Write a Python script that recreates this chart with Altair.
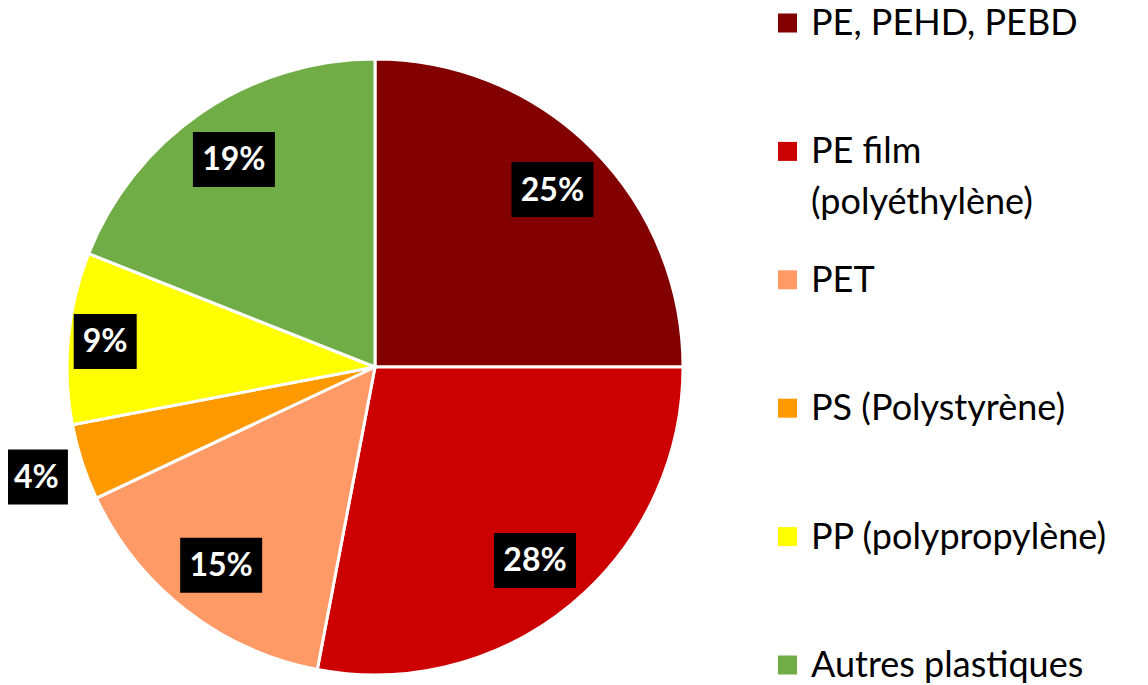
import altair as alt
import pandas as pd

cats = ["PE, PEHD, PEBD", "PE film (polyéthylène)", "PET", "PS (Polystyrène)",
        "PP (polypropylène)", "Autres plastiques"]
legend_labels = ["PE, PEHD, PEBD", "PE film\n(polyéthylène)", "PET", "PS (Polystyrène)",
                 "PP (polypropylène)", "Autres plastiques"]
values = [25, 28, 15, 4, 9, 19]
colors = ["#820000", "#CC0000", "#FF9966", "#FF9900", "#FFFF00", "#70AD47"]

df = pd.DataFrame({
    "cat": cats,
    "legend": legend_labels,
    "value": values,
    "idx": list(range(len(cats))),
})
df["label"] = df["value"].astype(str) + "%"

CX, CY, R = 367, 359, 308
base = alt.Chart(df)

pie = base.mark_arc(outerRadius=R, stroke="white", strokeWidth=3).encode(
    theta=alt.Theta("value:Q", stack=True),
    order=alt.Order("idx:Q", sort="ascending"),
    color=alt.Color("cat:N", scale=alt.Scale(domain=cats, range=colors), legend=None),
    x=alt.value(CX),
    y=alt.value(CY),
)

lab = base.transform_window(
    cum="sum(value)", sort=[alt.SortField("idx", order="ascending")]
).transform_joinaggregate(
    total="sum(value)"
).transform_calculate(
    ang="(datum.cum - datum.value/2) / datum.total * 2 * PI",
    r="datum.value < 5 ? 356 : (datum.value < 10 ? 271 : 251)",
    w="length(datum.label) > 2 ? 41 : 31.5",
).transform_calculate(
    px=f"{CX} + datum.r * sin(datum.ang)",
    py=f"{CY} - datum.r * cos(datum.ang)",
).transform_calculate(
    x1="datum.px - datum.w", x2="datum.px + datum.w",
    y1="datum.py - 27.5", y2="datum.py + 27.5",
)

boxes = lab.mark_rect(color="black").encode(
    x=alt.X("x1:Q", scale=None, axis=None),
    x2="x2:Q",
    y=alt.Y("y1:Q", scale=None, axis=None),
    y2="y2:Q",
)
texts = lab.mark_text(color="white", font="Lato", fontWeight="bold", fontSize=32,
                      baseline="middle", align="center", dy=1).encode(
    x=alt.X("px:Q", scale=None, axis=None),
    y=alt.Y("py:Q", scale=None, axis=None),
    text="label:N",
)

leg_y = alt.Y("cat:N", sort=cats, axis=None,
              scale=alt.Scale(type="point", range=[15, 657], padding=0))
leg_sym = base.mark_square(size=361, opacity=1).encode(
    x=alt.value(779.5),
    y=leg_y,
    color=alt.Color("cat:N", scale=alt.Scale(domain=cats, range=colors), legend=None),
)
leg_txt = base.mark_text(font="Lato", fontSize=36, align="left", baseline="alphabetic",
                         dy=12, lineBreak="\n", lineHeight=51, color="black").encode(
    x=alt.value(803),
    y=leg_y,
    text="legend:N",
)

chart = alt.layer(pie, boxes, texts, leg_sym, leg_txt).resolve_scale(
    y="independent", x="independent", color="shared"
).properties(
    width=1130, height=677, padding=0, autosize="none", background="white"
).configure_view(strokeWidth=0)

chart.save("out.html", embed_options={"renderer": "svg", "actions": False})
